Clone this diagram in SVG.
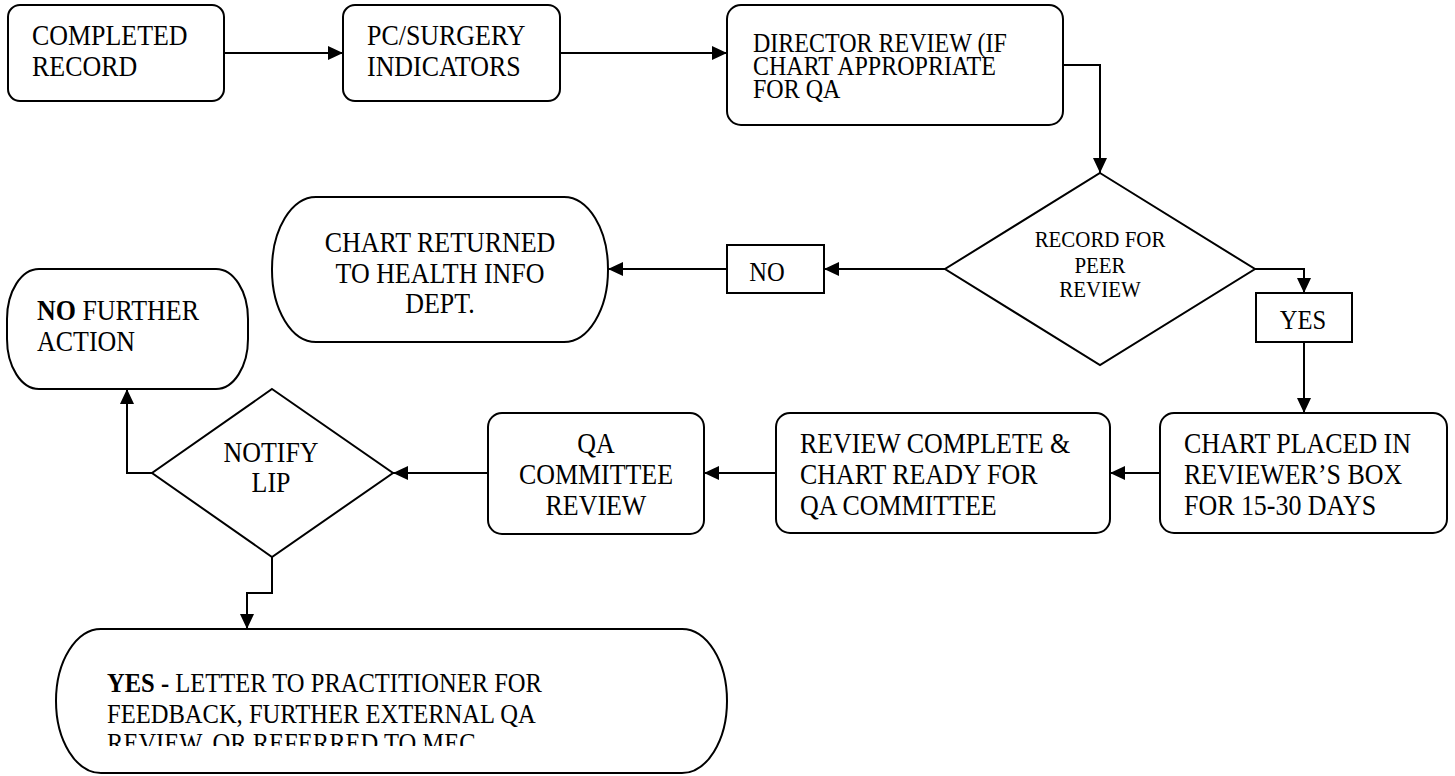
<svg xmlns="http://www.w3.org/2000/svg" width="1455" height="776" viewBox="0 0 1455 776">
<style>
.s{fill:#fff;stroke:#000;stroke-width:2}
.c{fill:none;stroke:#000;stroke-width:2}
text{font-family:"Liberation Serif","Times New Roman",serif;fill:#000}
.t28{font-size:28.5px}
.t26{font-size:26.4px}
.t27{font-size:27px}
.t23{font-size:23px}
.m{text-anchor:middle}
</style>
<defs>
<marker id="ah" markerUnits="userSpaceOnUse" markerWidth="16" markerHeight="14" refX="15" refY="7" orient="auto">
<path d="M0,0 L15,7 L0,14 z" fill="#000"/>
</marker>
<clipPath id="clipYes"><rect x="56" y="629" width="672" height="117"/></clipPath>
</defs>
<rect width="1455" height="776" fill="#fff"/>
<g id="connectors">
<line class="c" x1="224" y1="53" x2="343" y2="53" marker-end="url(#ah)"/>
<line class="c" x1="560" y1="53" x2="727" y2="53" marker-end="url(#ah)"/>
<polyline class="c" points="1063,65 1100,65 1100,173" marker-end="url(#ah)"/>
<line class="c" x1="945" y1="269" x2="824" y2="269" marker-end="url(#ah)"/>
<line class="c" x1="727" y1="269" x2="608" y2="269" marker-end="url(#ah)"/>
<polyline class="c" points="1255,269 1304,269 1304,293" marker-end="url(#ah)"/>
<line class="c" x1="1304" y1="342" x2="1304" y2="413" marker-end="url(#ah)"/>
<line class="c" x1="1160" y1="473" x2="1110" y2="473" marker-end="url(#ah)"/>
<line class="c" x1="776" y1="473" x2="704" y2="473" marker-end="url(#ah)"/>
<line class="c" x1="488" y1="473" x2="393" y2="473" marker-end="url(#ah)"/>
<polyline class="c" points="152,473 127,473 127,389" marker-end="url(#ah)"/>
<polyline class="c" points="272,557 272,593 247,593 247,629" marker-end="url(#ah)"/>
</g>
<g id="completed-record">
<rect class="s" x="8" y="5" width="216" height="96" rx="12"/>
<g transform="scale(0.91 1)">
<text class="t28" x="35.2" y="45">COMPLETED</text>
<text class="t28" x="35.2" y="76">RECORD</text>
</g>
</g>
<g id="pc-surgery">
<rect class="s" x="343" y="5" width="217" height="96" rx="12"/>
<g transform="scale(0.91 1)">
<text class="t28" x="403.3" y="45">PC/SURGERY</text>
<text class="t28" x="403.3" y="76">INDICATORS</text>
</g>
</g>
<g id="director-review">
<rect class="s" x="727" y="5" width="336" height="120" rx="14"/>
<g transform="scale(0.91 1)">
<text class="t26" x="827.5" y="52">DIRECTOR REVIEW (IF</text>
<text class="t26" x="827.5" y="75">CHART APPROPRIATE</text>
<text class="t26" x="827.5" y="98">FOR QA</text>
</g>
</g>
<g id="peer-review-decision">
<polygon class="s" points="1100,173 1255,269 1100,365 945,269"/>
<g transform="scale(0.91 1)">
<text class="t23 m" x="1208.8" y="247">RECORD FOR</text>
<text class="t23 m" x="1208.8" y="273">PEER</text>
<text class="t23 m" x="1208.8" y="297">REVIEW</text>
</g>
</g>
<g id="no-label">
<rect class="s" x="727" y="245" width="97" height="48"/>
<text class="t27 m" x="842.9" y="281" transform="scale(0.91 1)">NO</text>
</g>
<g id="chart-returned">
<rect class="s" x="272" y="197" width="336" height="145" rx="44" ry="72"/>
<g transform="scale(0.91 1)">
<text class="t28 m" x="483.5" y="252">CHART RETURNED</text>
<text class="t28 m" x="483.5" y="283">TO HEALTH INFO</text>
<text class="t28 m" x="483.5" y="313">DEPT.</text>
</g>
</g>
<g id="yes-label">
<rect class="s" x="1256" y="293" width="96" height="49"/>
<text class="t27 m" x="1431.9" y="329" transform="scale(0.91 1)">YES</text>
</g>
<g id="chart-placed">
<rect class="s" x="1160" y="413" width="287" height="120" rx="14"/>
<g transform="scale(0.91 1)">
<text class="t28" x="1301.1" y="453">CHART PLACED IN</text>
<text class="t28" x="1301.1" y="484">REVIEWER’S BOX</text>
<text class="t28" x="1301.1" y="515">FOR 15-30 DAYS</text>
</g>
</g>
<g id="review-complete">
<rect class="s" x="776" y="413" width="334" height="120" rx="14"/>
<g transform="scale(0.91 1)">
<text class="t28" x="879.1" y="453">REVIEW COMPLETE &amp;</text>
<text class="t28" x="879.1" y="484">CHART READY FOR</text>
<text class="t28" x="879.1" y="515">QA COMMITTEE</text>
</g>
</g>
<g id="qa-committee">
<rect class="s" x="488" y="413" width="216" height="121" rx="14"/>
<g transform="scale(0.91 1)">
<text class="t28 m" x="654.9" y="453">QA</text>
<text class="t28 m" x="654.9" y="484">COMMITTEE</text>
<text class="t28 m" x="654.9" y="515">REVIEW</text>
</g>
</g>
<g id="notify-lip">
<polygon class="s" points="272,389 393,473 272,557 152,473"/>
<g transform="scale(0.91 1)">
<text class="t28 m" x="297.8" y="462">NOTIFY</text>
<text class="t28 m" x="297.8" y="492">LIP</text>
</g>
</g>
<g id="no-further-action">
<rect class="s" x="7" y="269" width="241" height="120" rx="32" ry="50"/>
<g transform="scale(0.91 1)">
<text class="t28" x="40.7" y="320"><tspan font-weight="bold">NO</tspan> FURTHER</text>
<text class="t28" x="40.7" y="351">ACTION</text>
</g>
</g>
<g id="yes-letter">
<rect class="s" x="56" y="629" width="671" height="144" rx="45" ry="72"/>
<g clip-path="url(#clipYes)">
<g transform="scale(0.91 1)">
<text class="t27" x="117.6" y="692"><tspan font-weight="bold">YES - </tspan> LETTER TO PRACTITIONER FOR</text>
<text class="t27" x="117.6" y="723">FEEDBACK, FURTHER EXTERNAL QA</text>
<text class="t27" x="117.6" y="752">REVIEW, OR REFERRED TO MEC</text>
</g>
</g>
</g>
</svg>
